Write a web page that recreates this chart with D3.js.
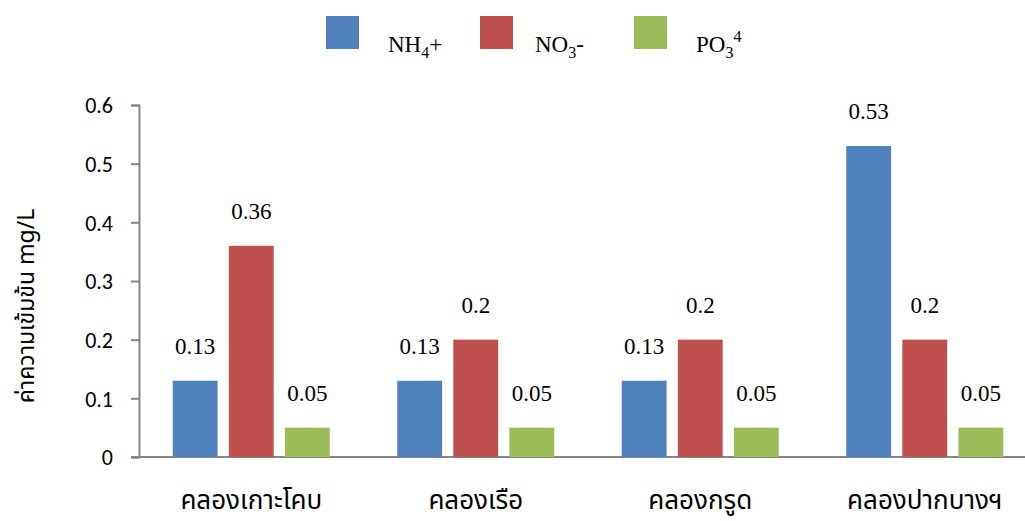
<!DOCTYPE html>
<html>
<head>
<meta charset="utf-8">
<script src="https://cdn.jsdelivr.net/npm/d3@7"></script>
<style>
  html, body { margin: 0; padding: 0; background: #fff; }
  svg { display: block; }
</style>
</head>
<body>
<svg id="chart" width="1025" height="521"></svg>
<script>
const categories = ["คลองเกาะโคบ", "คลองเรือ", "คลองกรูด", "คลองปากบางฯ"];
const seriesNames = ["NH4+", "NO3-", "PO34"];
const nh4 = [0.13, 0.13, 0.13, 0.53];
const no3 = [0.36, 0.2, 0.2, 0.2];
const po3 = [0.05, 0.05, 0.05, 0.05];
const yTicks = [0, 0.1, 0.2, 0.3, 0.4, 0.5, 0.6];
const yTitle = "ค่าความเข้มข้น mg/L";
const colors = ["#4F81BD", "#C0504D", "#9BBB59"];

const series = [nh4, no3, po3];
const svg = d3.select("#chart");
const thaiFont = "'Noto Sans Thai', 'Noto Serif Thai', 'Tlwg Typo', 'Loma', 'Garuda', 'DejaVu Sans', sans-serif";
const serif = "'Liberation Serif', 'Times New Roman', serif";
const sans = "Carlito, 'Liberation Sans', 'Open Sans', sans-serif";

const x0 = d3.scaleBand().domain(categories).range([139, 1037]).paddingInner(0).paddingOuter(0);
const x1 = d3.scaleBand().domain(d3.range(3)).range([0, 157]).paddingInner(0.2).paddingOuter(0);
const y = d3.scaleLinear().domain([0, 0.6]).range([457, 105]);

// axes
const yAxis = d3.axisLeft(y).tickValues(yTicks).tickSize(8).tickFormat(d => d === 0 ? "0" : d3.format(".1f")(d));
const gy = svg.append("g").attr("transform", "translate(139,0)").call(yAxis);
gy.select(".domain").attr("stroke", "#868686").attr("stroke-width", 2);
gy.selectAll(".tick line").attr("stroke", "#868686").attr("stroke-width", 2);
gy.selectAll(".tick text").attr("x", -26).attr("font-family", sans).attr("font-size", 22).attr("fill", "#000").attr("text-anchor", "end").attr("dy", "0.35em");

svg.append("line").attr("x1", 131).attr("x2", 1025).attr("y1", y(0)).attr("y2", y(0))
  .attr("stroke", "#868686").attr("stroke-width", 2);

// bars
const groups = svg.selectAll("g.grp").data(categories).enter().append("g")
  .attr("class", "grp")
  .attr("transform", d => `translate(${x0(d) + (x0.bandwidth() - 157) / 2},0)`);

groups.each(function(cat, ci) {
  const g = d3.select(this);
  series.forEach((vals, si) => {
    const v = vals[ci];
    g.append("rect").attr("x", x1(si)).attr("width", x1.bandwidth())
      .attr("y", y(v)).attr("height", y(0) - y(v)).attr("fill", colors[si]);
    g.append("text").attr("x", x1(si) + x1.bandwidth() / 2).attr("y", y(v) - 27)
      .attr("text-anchor", "middle").attr("font-family", serif).attr("font-size", 23)
      .attr("fill", "#000").text(String(v));
  });
});

// x labels
svg.selectAll("text.xl").data(categories).enter().append("text")
  .attr("class", "xl")
  .attr("x", d => x0(d) + x0.bandwidth() / 2).attr("y", 509)
  .attr("text-anchor", "middle").attr("font-family", thaiFont).attr("font-size", 26)
  .attr("fill", "#000").text(d => d);

// y title
svg.append("text").attr("transform", "translate(34,306) rotate(-90)")
  .attr("text-anchor", "middle").attr("font-family", thaiFont).attr("font-size", 23)
  .attr("fill", "#000").text(yTitle);

// legend
const legX = [326, 480, 634];
const legTextX = [388, 535, 696];
const leg = svg.append("g");
seriesNames.forEach((name, i) => {
  leg.append("rect").attr("x", legX[i]).attr("y", 16).attr("width", 33).attr("height", 33).attr("fill", colors[i]);
  const t = leg.append("text").attr("x", legTextX[i]).attr("y", 52)
    .attr("font-family", serif).attr("font-size", 23).attr("fill", "#000");
  if (i === 0) {
    t.append("tspan").text("NH");
    t.append("tspan").attr("font-size", 16).attr("dy", 6).text("4");
    t.append("tspan").attr("dy", -6).text("+");
  } else if (i === 1) {
    t.append("tspan").text("NO");
    t.append("tspan").attr("font-size", 16).attr("dy", 6).text("3");
    t.append("tspan").attr("dy", -6).text("-");
  } else {
    t.append("tspan").text("PO");
    t.append("tspan").attr("font-size", 16).attr("dy", 6).text("3");
    t.append("tspan").attr("font-size", 16).attr("dy", -16).text("4");
  }
});
</script>
</body>
</html>
